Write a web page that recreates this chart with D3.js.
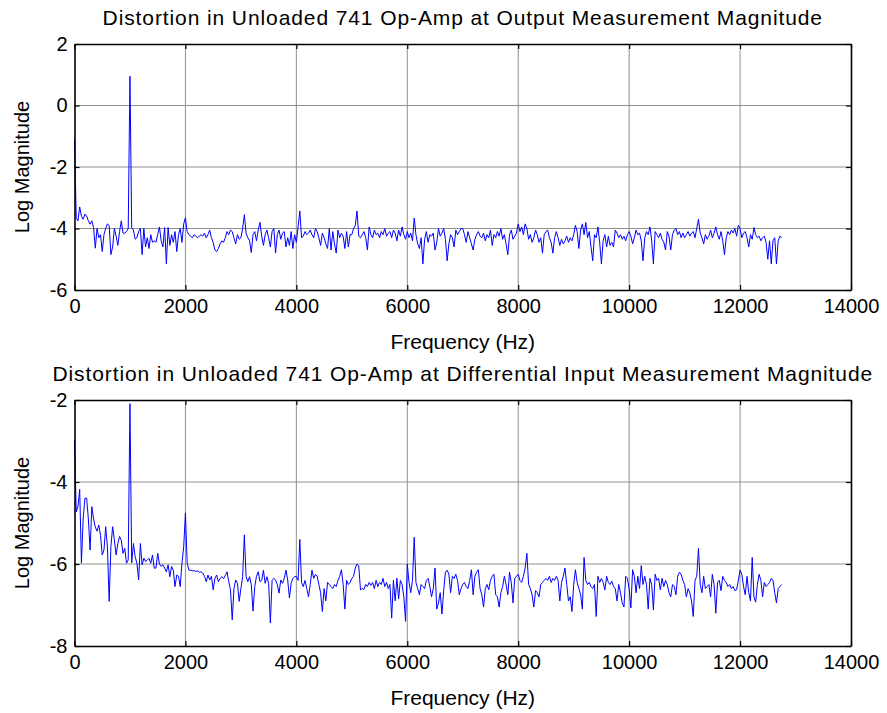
<!DOCTYPE html>
<html>
<head>
<meta charset="utf-8">
<script src="https://cdn.jsdelivr.net/npm/d3@7"></script>
<style>
  html, body { margin: 0; padding: 0; background: #ffffff; }
  svg { display: block; font-family: "Liberation Sans", Arial, sans-serif; }
</style>
</head>
<body>
<svg id="chart" width="887" height="713"></svg>
<script>
// ---------------- DATA ----------------
const binHz = 31.25; // frequency spacing of the FFT bins
const titles = [
  "Distortion in Unloaded 741 Op-Amp at Output Measurement Magnitude",
  "Distortion in Unloaded 741 Op-Amp at Differential Input Measurement Magnitude"
];
const xLabel = "Frequency (Hz)";
const yLabel = "Log Magnitude";
const xTicks = [0, 2000, 4000, 6000, 8000, 10000, 12000, 14000];
const yTicksTop = [-6, -4, -2, 0, 2];
const yTicksBottom = [-8, -6, -4, -2];

const outputMag = [
  // 0 - 968.75 Hz
  -1.1, -3.65, -3.75, -3.3, -3.6, -3.7, -3.53, -3.6, -3.75, -3.86, -3.75, -3.97, -4.64, -4.0, -4.3, -4.2,
  -4.75, -4.2, -4.0, -3.85, -3.9, -4.85, -4.6, -4.0, -4.25, -4.55, -4.1, -3.75, -4.15, -4.15, -4.1, -4.0,
  // 1000 Hz
  0.95, -3.97, -4.05, -4.35, -4.3, -4.1, -4.0, -4.85, -4.0, -4.6, -4.3, -4.65, -4.2, -4.45, -4.4, -4.45,
  -4.2, -3.95, -4.4, -4.6, -3.97, -5.15, -3.97, -4.55, -4.2, -4.45, -4.1, -4.75, -4.2, -4.0, -4.45, -3.85,
  // 2000 Hz
  -3.65, -4.1, -4.2, -4.25, -4.3, -4.2, -4.25, -4.3, -4.25, -4.2, -4.25, -4.15, -4.3, -4.2, -4.05, -4.3,
  -4.45, -4.7, -4.75, -4.65, -4.5, -4.4, -4.45, -4.3, -4.1, -4.2, -4.05, -4.1, -4.3, -4.5, -4.2, -4.35,
  // 3000 Hz
  -4.3, -4.0, -3.55, -4.15, -4.3, -4.4, -4.78, -4.2, -4.1, -4.4, -4.05, -3.8, -4.25, -4.55, -4.2, -4.05,
  -4.3, -4.6, -4.1, -4.0, -4.8, -4.2, -4.05, -4.35, -4.15, -4.1, -4.6, -4.3, -4.55, -4.1, -4.65, -4.2,
  // 4000 Hz
  -4.45, -3.95, -3.43, -4.3, -4.25, -4.1, -4.2, -4.15, -4.05, -4.2, -4.3, -4.0, -4.1, -4.3, -4.55, -4.15,
  -4.3, -4.5, -4.65, -4.0, -4.7, -4.1, -4.5, -4.8, -4.05, -4.3, -4.15, -4.25, -4.65, -4.1, -4.6, -4.2,
  // 5000 Hz
  -4.2, -4.0, -3.9, -3.43, -4.25, -4.3, -4.2, -4.1, -4.3, -4.7, -3.95, -4.2, -4.3, -4.05, -4.2, -4.15,
  -4.3, -4.1, -4.2, -4.0, -4.25, -4.15, -4.1, -4.3, -4.05, -4.15, -4.4, -4.05, -4.25, -3.95, -4.2, -4.35,
  // 6000 Hz
  -4.1, -4.3, -4.15, -4.4, -3.66, -4.2, -4.5, -4.65, -4.3, -5.15, -4.35, -4.1, -4.45, -4.2, -4.25, -4.15,
  -4.7, -4.45, -4.0, -4.25, -4.15, -4.0, -4.35, -5.05, -4.5, -4.2, -4.3, -4.6, -4.05, -4.2, -4.1, -4.0,
  // 7000 Hz
  -4.0, -4.2, -4.45, -4.1, -4.3, -4.5, -4.7, -4.35, -4.2, -4.1, -4.25, -4.3, -4.15, -4.4, -4.2, -4.3,
  -4.05, -4.55, -4.2, -4.3, -4.1, -4.25, -4.0, -4.35, -4.2, -4.5, -4.85, -4.2, -4.05, -4.35, -4.25, -4.15,
  // 8000 Hz
  -3.85, -4.1, -3.95, -4.2, -3.85, -4.0, -4.35, -4.2, -4.45, -4.3, -4.05, -4.2, -4.45, -4.3, -4.8, -4.2,
  -4.1, -4.05, -4.3, -4.45, -4.8, -4.3, -4.1, -4.3, -4.55, -4.35, -4.5, -4.4, -4.25, -4.45, -4.3, -4.4,
  // 9000 Hz
  -4.2, -3.9, -4.1, -4.65, -4.05, -3.85, -4.2, -3.8, -4.3, -4.1, -4.6, -5.05, -4.2, -4.3, -3.95, -4.45,
  -5.15, -4.4, -4.2, -4.6, -4.25, -4.55, -4.45, -4.6, -4.05, -4.15, -4.3, -4.2, -4.35, -4.25, -4.4, -4.2,
  // 10000 Hz
  -4.1, -4.25, -4.5, -4.3, -4.05, -4.2, -4.15, -4.4, -5.05, -4.3, -4.1, -4.2, -3.95, -4.4, -5.15, -4.1,
  -4.2, -4.3, -4.15, -4.35, -4.45, -4.7, -4.1, -4.25, -4.7, -4.2, -4.05, -4.0, -4.2, -4.1, -4.3, -4.15,
  // 11000 Hz
  -4.3, -4.2, -4.1, -4.25, -4.15, -4.1, -4.3, -4.0, -3.7, -4.15, -4.3, -4.5, -4.2, -4.35, -4.25, -4.05,
  -4.3, -4.15, -3.95, -4.2, -4.35, -4.1, -4.4, -4.85, -4.3, -4.1, -4.2, -4.05, -4.15, -4.0, -4.25, -3.9,
  // 12000 Hz
  -4.0, -4.3, -4.15, -4.1, -4.3, -4.6, -4.2, -4.35, -3.97, -4.2, -4.3, -4.25, -4.4, -4.3, -4.25, -4.45,
  -5.0, -4.4, -5.15, -4.4, -4.3, -5.15, -4.4, -4.25, -4.3
];

const diffInputMag = [
  // 0 - 968.75 Hz
  -2.97, -4.73, -4.6, -4.18, -5.98, -4.9, -4.4, -4.39, -4.9, -5.66, -4.6, -4.9, -5.1, -5.2, -5.05, -5.3,
  -5.78, -5.66, -5.09, -5.58, -6.91, -5.58, -5.09, -5.42, -5.78, -5.5, -5.33, -5.42, -5.74, -5.62, -5.98, -5.9,
  // 1000 Hz
  -2.09, -5.97, -5.5, -5.82, -5.98, -6.39, -5.5, -6.02, -5.86, -5.94, -5.9, -5.86, -5.98, -5.78, -6.1, -6.1,
  -5.74, -6.0, -6.06, -6.02, -6.1, -6.19, -6.02, -6.31, -6.06, -6.15, -6.55, -6.27, -6.3, -6.55, -5.98, -5.58,
  // 2000 Hz
  -4.75, -5.98, -6.15, -6.15, -6.17, -6.16, -6.18, -6.17, -6.2, -6.19, -6.22, -6.3, -6.43, -6.27, -6.39, -6.3,
  -6.63, -6.35, -6.27, -6.43, -6.35, -6.31, -6.36, -6.28, -6.19, -6.43, -6.63, -7.36, -6.6, -6.39, -6.47, -6.91,
  // 3000 Hz
  -6.6, -6.31, -5.29, -6.31, -6.43, -6.31, -6.5, -7.15, -6.55, -6.3, -6.19, -6.43, -6.4, -6.15, -6.47, -6.31,
  -6.47, -7.44, -6.4, -6.35, -6.39, -6.5, -6.71, -6.39, -6.47, -6.35, -6.15, -6.39, -6.83, -6.47, -6.35, -6.31,
  // 4000 Hz
  -6.3, -6.4, -5.4, -6.45, -6.55, -6.4, -6.6, -6.8, -6.5, -6.15, -6.35, -6.25, -6.3, -6.5, -6.7, -7.16,
  -6.6, -6.9, -6.45, -6.5, -6.55, -6.6, -6.5, -6.55, -6.4, -6.3, -6.14, -6.5, -7.1, -6.4, -6.5, -6.45,
  // 5000 Hz
  -6.35, -6.3, -6.1, -6.0, -6.05, -6.63, -6.6, -6.62, -6.5, -6.55, -6.45, -6.52, -6.45, -6.6, -6.4, -6.55,
  -6.45, -6.5, -6.35, -6.55, -6.45, -6.6, -6.5, -7.32, -6.4, -6.9, -6.35, -6.85, -6.4, -6.5, -6.8, -7.4,
  // 6000 Hz
  -6.0, -6.45, -6.7, -6.4, -5.35, -6.45, -6.6, -6.75, -6.5, -6.55, -6.6, -6.4, -6.35, -6.55, -6.8, -6.6,
  -6.1, -7.1, -6.95, -6.7, -7.22, -6.65, -6.2, -6.15, -6.25, -6.7, -6.3, -6.35, -6.25, -6.4, -6.75, -6.6,
  // 7000 Hz
  -6.5, -6.45, -6.55, -6.6, -6.4, -6.14, -6.75, -6.3, -6.2, -6.14, -6.6, -6.75, -7.05, -6.6, -6.5, -6.63,
  -6.4, -6.3, -6.25, -6.75, -6.8, -7.05, -6.7, -6.55, -6.3, -6.5, -6.75, -6.2, -6.45, -6.95, -6.35, -6.3,
  // 8000 Hz
  -6.25, -6.4, -6.45, -6.3, -6.1, -5.74, -6.5, -6.6, -6.75, -7.05, -6.65, -6.7, -6.8, -6.5, -6.45, -6.4,
  -6.35, -6.4, -6.3, -6.45, -6.35, -6.4, -6.3, -6.4, -6.9, -6.45, -6.3, -6.1, -6.5, -6.9, -6.8, -7.16,
  // 9000 Hz
  -6.5, -6.14, -6.45, -6.6, -6.75, -7.1, -5.84, -6.4, -6.5, -6.45, -6.55, -6.6, -6.5, -7.28, -6.3, -6.45,
  -6.35, -6.45, -6.63, -6.3, -6.45, -6.5, -6.42, -6.55, -6.6, -6.9, -6.5, -6.7, -6.95, -7.05, -6.3, -6.35,
  // 10000 Hz
  -6.6, -7.07, -6.14, -6.3, -6.7, -6.3, -6.6, -6.04, -6.5, -6.3, -6.5, -7.1, -6.35, -6.5, -7.12, -6.25,
  -6.4, -6.35, -6.63, -6.35, -6.55, -6.4, -6.5, -6.7, -6.8, -6.5, -6.55, -6.75, -6.3, -6.2, -6.25, -6.4,
  // 11000 Hz
  -6.5, -6.8, -6.6, -6.7, -6.9, -7.28, -6.4, -6.3, -5.62, -6.5, -6.7, -6.3, -6.6, -6.55, -6.5, -6.8,
  -6.25, -6.5, -7.2, -6.45, -6.4, -6.65, -6.3, -6.4, -6.45, -6.55, -6.5, -6.6, -6.55, -6.65, -6.63, -6.4,
  // 12000 Hz
  -6.15, -6.25, -6.55, -6.75, -6.3, -6.7, -6.9, -5.84, -6.8, -6.93, -6.5, -6.25, -6.4, -6.8, -6.45, -6.55,
  -6.5, -6.45, -6.35, -6.4, -6.7, -6.95, -6.6, -6.55, -6.5
];

// ---------------- DRAWING ----------------
const svg = d3.select("#chart");
svg.append("rect").attr("width", 887).attr("height", 713).attr("fill", "#ffffff");

const left = 74.5, right = 851;
const panels = [
  { values: outputMag, title: titles[0], top: 44, bottom: 290, yDomain: [-6, 2], yTicks: yTicksTop },
  { values: diffInputMag, title: titles[1], top: 400, bottom: 646, yDomain: [-8, -2], yTicks: yTicksBottom }
];

const fontFam = '"Liberation Sans", Arial, sans-serif';
const fmt = d => String(d);

panels.forEach(p => {
  const x = d3.scaleLinear().domain([0, 14000]).range([left, right]);
  const y = d3.scaleLinear().domain(p.yDomain).range([p.bottom, p.top]);
  const g = svg.append("g");

  // grid
  g.append("g").selectAll("line").data(xTicks.slice(1, -1)).join("line")
    .attr("x1", d => x(d)).attr("x2", d => x(d))
    .attr("y1", p.top).attr("y2", p.bottom)
    .attr("stroke", "#909090").attr("stroke-width", 1);
  g.append("g").selectAll("line").data(p.yTicks.slice(1, -1)).join("line")
    .attr("x1", left).attr("x2", right)
    .attr("y1", d => y(d)).attr("y2", d => y(d))
    .attr("stroke", "#909090").attr("stroke-width", 1);

  // data line
  const line = d3.line()
    .x((d, i) => x(i * binHz))
    .y(d => y(d));
  g.append("path").datum(p.values)
    .attr("d", line)
    .attr("fill", "none")
    .attr("stroke", "#0000ff")
    .attr("stroke-width", 1);

  // axes (MATLAB-like: ticks inside, box)
  const tickLen = 5;
  const axB = d3.axisBottom(x).tickValues(xTicks).tickFormat(fmt).tickSizeInner(-tickLen).tickSizeOuter(0).tickPadding(9);
  const axT = d3.axisTop(x).tickValues(xTicks).tickSizeInner(-tickLen).tickSizeOuter(0).tickFormat("");
  const axL = d3.axisLeft(y).tickValues(p.yTicks).tickFormat(fmt).tickSizeInner(-tickLen).tickSizeOuter(0).tickPadding(7);
  const axR = d3.axisRight(y).tickValues(p.yTicks).tickSizeInner(-tickLen).tickSizeOuter(0).tickFormat("");

  const styleAxis = sel => {
    sel.select(".domain").attr("stroke", "#000").attr("stroke-width", 1.6);
    sel.selectAll(".tick line").attr("stroke", "#000").attr("stroke-width", 1.2);
    sel.selectAll(".tick text").attr("fill", "#000").style("font-family", fontFam).style("font-size", "20px");
  };
  g.append("g").attr("transform", `translate(0,${p.bottom})`).call(axB).call(styleAxis);
  g.append("g").attr("transform", `translate(0,${p.top})`).call(axT).call(styleAxis);
  g.append("g").attr("transform", `translate(${left},0)`).call(axL).call(styleAxis);
  g.append("g").attr("transform", `translate(${right},0)`).call(axR).call(styleAxis);

  // title
  svg.append("text")
    .attr("x", (left + right) / 2).attr("y", p.top - 19)
    .attr("text-anchor", "middle")
    .style("font-family", fontFam).style("font-size", "21px")
    .style("letter-spacing", "0.9px")
    .text(p.title);
  // x label
  svg.append("text")
    .attr("x", (left + right) / 2).attr("y", p.bottom + 59)
    .attr("text-anchor", "middle")
    .style("font-family", fontFam).style("font-size", "21px")
    .text(xLabel);
  // y label
  svg.append("text")
    .attr("transform", `translate(29,${(p.top + p.bottom) / 2}) rotate(-90)`)
    .attr("text-anchor", "middle")
    .style("font-family", fontFam).style("font-size", "20px")
    .text(yLabel);
});
</script>
</body>
</html>
